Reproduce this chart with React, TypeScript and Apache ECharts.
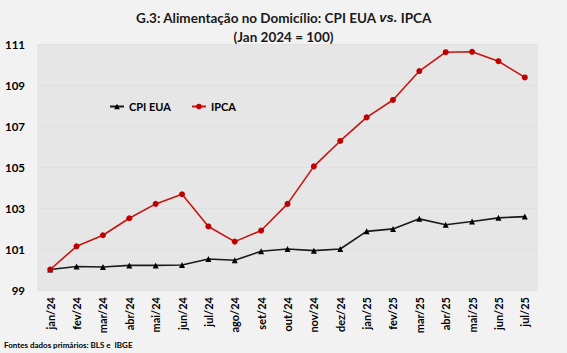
import React, { useEffect, useRef } from "react";
import * as echarts from "echarts";

const categories = [
  "jan/24", "fev/24", "mar/24", "abr/24", "mai/24", "jun/24", "jul/24", "ago/24", "set/24",
  "out/24", "nov/24", "dez/24", "jan/25", "fev/25", "mar/25", "abr/25", "mai/25", "jun/25", "jul/25",
];
const cpiEua = [
  100.0, 100.15, 100.12, 100.2, 100.2, 100.22, 100.51, 100.45, 100.89,
  101.0, 100.92, 101.0, 101.86, 101.98, 102.47, 102.18, 102.34, 102.52, 102.58,
];
const ipca = [
  100.0, 101.13, 101.67, 102.5, 103.2, 103.67, 102.1, 101.36, 101.9,
  103.2, 105.03, 106.27, 107.42, 108.27, 109.68, 110.6, 110.62, 110.16, 109.37,
];
const yTicks = [99, 101, 103, 105, 107, 109, 111];

const FONT = "Lato, 'Open Sans', sans-serif";

export default function App() {
  const ref = useRef<HTMLDivElement>(null);
  useEffect(() => {
    if (!ref.current) return;
    const chart = echarts.init(ref.current, undefined, { renderer: "svg" });
    chart.setOption({
      animation: false,
      backgroundColor: "#f2f2f2",
      textStyle: { fontFamily: FONT },
      title: {
        left: "center",
        top: 3,
        text: "{n|G.3: Alimentação no Domicílio: CPI EUA }{i|vs.}{n| IPCA}\n{n|(Jan 2024 = 100)}",
        textStyle: {
          rich: {
            n: { fontFamily: FONT, fontSize: 13.5, fontWeight: "bold", color: "#1a1a1a", lineHeight: 19 },
            i: { fontFamily: "'Liberation Sans', 'DejaVu Sans', sans-serif", fontSize: 13, fontWeight: "bold", fontStyle: "italic", color: "#1a1a1a", lineHeight: 19 },
          },
        },
      },
      legend: {
        left: 104,
        top: 96,
        itemWidth: 14,
        itemHeight: 7,
        itemGap: 20,
        textStyle: { fontFamily: FONT, fontSize: 11, fontWeight: "bold", color: "#000" },
        data: ["CPI EUA", "IPCA"],
      },
      grid: { left: 37, right: 29, top: 44, bottom: 63, backgroundColor: "#e6e6e6", show: true, borderWidth: 0 },
      xAxis: {
        type: "category",
        data: categories,
        boundaryGap: true,
        axisLine: { show: false },
        axisTick: { show: false },
        axisLabel: {
          rotate: 90,
          interval: 0,
          margin: 7,
          fontFamily: FONT,
          fontSize: 11,
          fontWeight: "bold",
          color: "#000",
        },
      },
      yAxis: {
        type: "value",
        min: yTicks[0],
        max: yTicks[yTicks.length - 1],
        interval: 2,
        axisLine: { show: false },
        axisTick: { show: false },
        splitLine: { show: true, lineStyle: { color: "#e0e0e0", width: 1 } },
        axisLabel: {
          margin: 12,
          fontFamily: FONT,
          fontSize: 11.5,
          fontWeight: "bold",
          color: "#000",
        },
      },
      series: [
        {
          name: "CPI EUA",
          type: "line",
          data: cpiEua,
          symbol: "triangle",
          symbolSize: 6,
          itemStyle: { color: "#000000" },
          lineStyle: { color: "#1a1a1a", width: 1.6 },
          z: 3,
        },
        {
          name: "IPCA",
          type: "line",
          data: ipca,
          symbol: "circle",
          symbolSize: 6,
          itemStyle: { color: "#c00000" },
          lineStyle: { color: "#cc1111", width: 1.6 },
          z: 4,
        },
      ],
      graphic: [
        {
          type: "text",
          left: 4,
          top: 341,
          style: {
            text: "Fontes dados primários: BLS e  IBGE",
            fontFamily: FONT,
            fontSize: 8,
            fontWeight: "bold",
            fill: "#000",
          },
        },
      ],
    });
    return () => chart.dispose();
  }, []);
  return (
    <div
      ref={ref}
      style={{ position: "fixed", left: 0, top: 0, width: 567, height: 353 }}
    />
  );
}
